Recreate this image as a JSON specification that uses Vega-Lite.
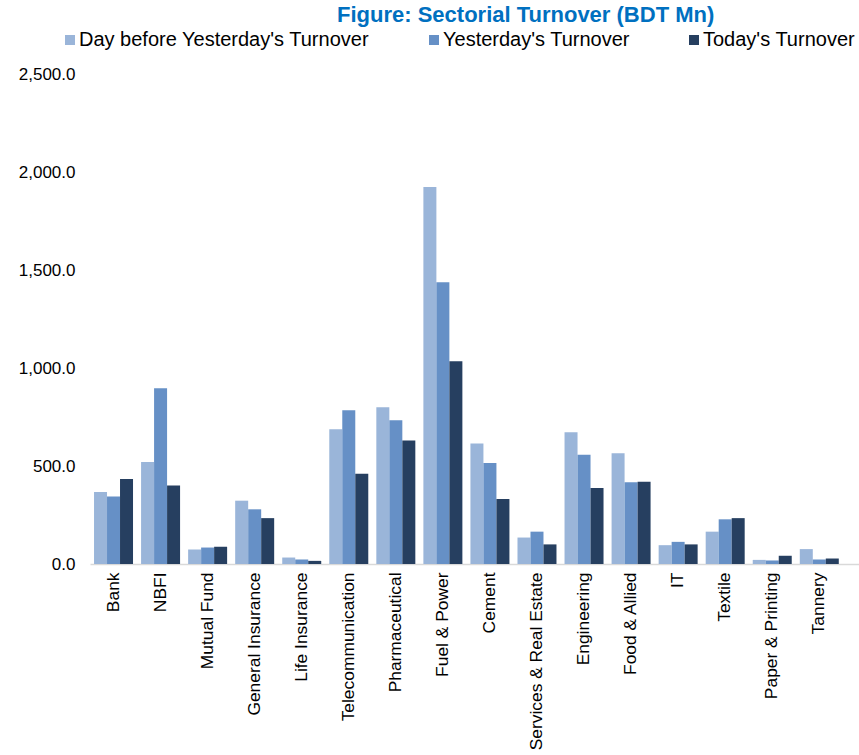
{
  "$schema": "https://vega.github.io/schema/vega-lite/v6.json",
  "autosize": "none",
  "padding": {"left": 90, "top": 74, "right": 0, "bottom": 191},
  "width": 769,
  "height": 490,
  "background": "white",
  "title": {
    "text": "Figure: Sectorial Turnover (BDT Mn)",
    "frame": "group",
    "anchor": "start",
    "dx": 247,
    "dy": 21,
    "offset": 7,
    "baseline": "alphabetic",
    "font": "Liberation Sans",
    "fontSize": 22,
    "fontWeight": "bold",
    "color": "#0070C0"
  },
  "data": {
    "values": [
      {"sector": "Bank", "series": "Day before Yesterday's Turnover", "value": 367},
      {"sector": "Bank", "series": "Yesterday's Turnover", "value": 345},
      {"sector": "Bank", "series": "Today's Turnover", "value": 434},
      {"sector": "NBFI", "series": "Day before Yesterday's Turnover", "value": 520},
      {"sector": "NBFI", "series": "Yesterday's Turnover", "value": 897},
      {"sector": "NBFI", "series": "Today's Turnover", "value": 401},
      {"sector": "Mutual Fund", "series": "Day before Yesterday's Turnover", "value": 74},
      {"sector": "Mutual Fund", "series": "Yesterday's Turnover", "value": 84},
      {"sector": "Mutual Fund", "series": "Today's Turnover", "value": 88},
      {"sector": "General Insurance", "series": "Day before Yesterday's Turnover", "value": 323},
      {"sector": "General Insurance", "series": "Yesterday's Turnover", "value": 279},
      {"sector": "General Insurance", "series": "Today's Turnover", "value": 234},
      {"sector": "Life Insurance", "series": "Day before Yesterday's Turnover", "value": 33},
      {"sector": "Life Insurance", "series": "Yesterday's Turnover", "value": 23},
      {"sector": "Life Insurance", "series": "Today's Turnover", "value": 16},
      {"sector": "Telecommunication", "series": "Day before Yesterday's Turnover", "value": 688},
      {"sector": "Telecommunication", "series": "Yesterday's Turnover", "value": 785},
      {"sector": "Telecommunication", "series": "Today's Turnover", "value": 461},
      {"sector": "Pharmaceutical", "series": "Day before Yesterday's Turnover", "value": 800},
      {"sector": "Pharmaceutical", "series": "Yesterday's Turnover", "value": 734},
      {"sector": "Pharmaceutical", "series": "Today's Turnover", "value": 630},
      {"sector": "Fuel & Power", "series": "Day before Yesterday's Turnover", "value": 1923},
      {"sector": "Fuel & Power", "series": "Yesterday's Turnover", "value": 1438},
      {"sector": "Fuel & Power", "series": "Today's Turnover", "value": 1034},
      {"sector": "Cement", "series": "Day before Yesterday's Turnover", "value": 615},
      {"sector": "Cement", "series": "Yesterday's Turnover", "value": 515},
      {"sector": "Cement", "series": "Today's Turnover", "value": 331},
      {"sector": "Services & Real Estate", "series": "Day before Yesterday's Turnover", "value": 135},
      {"sector": "Services & Real Estate", "series": "Yesterday's Turnover", "value": 165},
      {"sector": "Services & Real Estate", "series": "Today's Turnover", "value": 100},
      {"sector": "Engineering", "series": "Day before Yesterday's Turnover", "value": 672},
      {"sector": "Engineering", "series": "Yesterday's Turnover", "value": 558},
      {"sector": "Engineering", "series": "Today's Turnover", "value": 388},
      {"sector": "Food & Allied", "series": "Day before Yesterday's Turnover", "value": 565},
      {"sector": "Food & Allied", "series": "Yesterday's Turnover", "value": 417},
      {"sector": "Food & Allied", "series": "Today's Turnover", "value": 420},
      {"sector": "IT", "series": "Day before Yesterday's Turnover", "value": 96},
      {"sector": "IT", "series": "Yesterday's Turnover", "value": 113},
      {"sector": "IT", "series": "Today's Turnover", "value": 100},
      {"sector": "Textile", "series": "Day before Yesterday's Turnover", "value": 165},
      {"sector": "Textile", "series": "Yesterday's Turnover", "value": 228},
      {"sector": "Textile", "series": "Today's Turnover", "value": 234},
      {"sector": "Paper & Printing", "series": "Day before Yesterday's Turnover", "value": 21},
      {"sector": "Paper & Printing", "series": "Yesterday's Turnover", "value": 18},
      {"sector": "Paper & Printing", "series": "Today's Turnover", "value": 42},
      {"sector": "Tannery", "series": "Day before Yesterday's Turnover", "value": 76},
      {"sector": "Tannery", "series": "Yesterday's Turnover", "value": 23},
      {"sector": "Tannery", "series": "Today's Turnover", "value": 28}
    ]
  },
  "mark": {"type": "bar"},
  "encoding": {
    "x": {
      "field": "sector",
      "type": "nominal",
      "sort": null,
      "scale": {"paddingInner": 0, "paddingOuter": 0.172, "align": 0},
      "axis": {
        "title": null,
        "labelAngle": -90,
        "labelPadding": 8,
        "labelLimit": 300,
        "labelFontSize": 17.4,
        "labelColor": "black",
        "ticks": false,
        "domainColor": "#d9d9d9",
        "domainWidth": 1.5
      }
    },
    "xOffset": {
      "field": "series",
      "sort": ["Day before Yesterday's Turnover", "Yesterday's Turnover", "Today's Turnover"],
      "scale": {"paddingInner": 0, "paddingOuter": 0.31}
    },
    "y": {
      "field": "value",
      "type": "quantitative",
      "scale": {"domain": [0, 2500], "nice": false},
      "axis": {
        "title": null,
        "values": [0, 500, 1000, 1500, 2000, 2500],
        "format": ",.1f",
        "grid": false,
        "domain": false,
        "ticks": false,
        "labelPadding": 15,
        "labelFontSize": 17,
        "labelColor": "black"
      }
    },
    "color": {
      "field": "series",
      "type": "nominal",
      "scale": {
        "domain": ["Day before Yesterday's Turnover", "Yesterday's Turnover", "Today's Turnover"],
        "range": ["#9ab5d9", "#6690c6", "#263f60"]
      },
      "legend": {
        "title": null,
        "orient": "none",
        "direction": "horizontal",
        "legendX": -30,
        "legendY": -44,
        "symbolType": "square",
        "symbolSize": 100,
        "symbolStrokeWidth": 0,
        "labelOffset": -1,
        "labelFontSize": 20,
        "labelColor": "black",
        "labelLimit": 400,
        "columnPadding": 54,
        "padding": 0
      }
    }
  },
  "config": {
    "font": "Liberation Sans",
    "view": {"stroke": null}
  }
}
